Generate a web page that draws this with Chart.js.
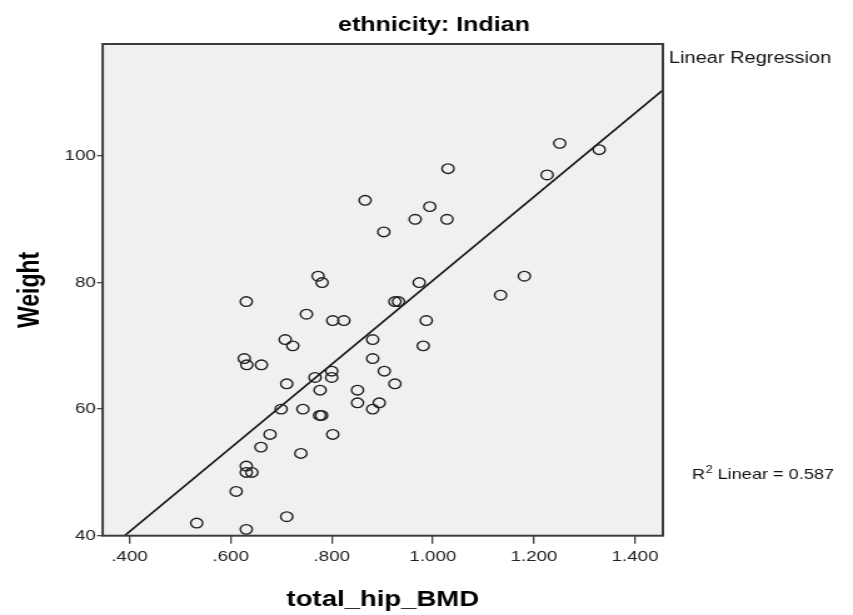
<!DOCTYPE html>
<html>
<head>
<meta charset="utf-8">
<script src="https://cdn.jsdelivr.net/npm/chart.js@4/dist/chart.umd.min.js"></script>
<style>
  html, body { margin: 0; padding: 0; background: #fff; overflow: hidden; }
  #c { position: absolute; left: 0; top: 0; transform: scaleX(1.2507); transform-origin: 0 0; }
</style>
</head>
<body>
<canvas id="c" width="682" height="615"></canvas>
<script>
// Hip bone mineral density (g/cm²) and body weight (kg), one entry per subject
const hipBMD = [
  0.533, 0.631, 0.611, 0.631, 0.631, 0.642, 0.660, 0.678, 0.711, 0.739,
  0.700, 0.743, 0.711, 0.777, 0.780, 0.776, 0.802, 0.767, 0.800, 0.800,
  0.627, 0.632, 0.661, 0.708, 0.723, 0.631, 0.750, 0.802, 0.824, 0.773,
  0.781, 0.866, 0.903, 0.965, 0.994, 1.028, 1.030, 0.973, 0.925, 0.932,
  0.987, 0.981, 0.881, 0.881, 0.904, 0.925, 0.851, 0.851, 0.894, 0.881,
  1.134, 1.181, 1.226, 1.251, 1.329
];
const weight = [
  42, 41, 47, 51, 50, 50, 54, 56, 43, 53,
  60, 60, 64, 63, 59, 59, 56, 65, 66, 65,
  68, 67, 67, 71, 70, 77, 75, 74, 74, 81,
  80, 93, 88, 90, 92, 90, 98, 80, 77, 77,
  74, 70, 71, 68, 66, 64, 63, 61, 61, 60,
  78, 81, 97, 102, 101
];

const xTickValues = [0.4, 0.6, 0.8, 1.0, 1.2, 1.4];
const yTickValues = [40, 60, 80, 100];
const xRange = [0.347, 1.455];
const yRange = [40, 117.7];

const panelTitle = 'ethnicity: Indian';
const xTitle = 'total_hip_BMD';
const yTitle = 'Weight';
const fitLegend = 'Linear Regression';
const rSquaredLinear = 0.587;

// ordinary least squares fit of weight on hip BMD
function leastSquares(xs, ys) {
  const n = xs.length;
  const mx = xs.reduce((s, v) => s + v, 0) / n;
  const my = ys.reduce((s, v) => s + v, 0) / n;
  let sxy = 0, sxx = 0;
  for (let i = 0; i < n; i++) {
    sxy += (xs[i] - mx) * (ys[i] - my);
    sxx += (xs[i] - mx) * (xs[i] - mx);
  }
  const slope = sxy / sxx;
  return { slope, intercept: my - slope * mx };
}
const fit = leastSquares(hipBMD, weight);
const fitLine = xRange.map(x => ({ x, y: fit.intercept + fit.slope * x }));
const subjects = hipBMD.map((x, i) => ({ x, y: weight[i] }));

const FONT = '"Liberation Sans", Arial, sans-serif';

function fmtBMD(v) {
  const s = v.toFixed(3);
  return s.startsWith('0') ? s.slice(1) : s;
}

const panelDecor = {
  id: 'panelDecor',
  beforeDraw(chart) {
    const { ctx, chartArea: a } = chart;
    ctx.save();
    ctx.fillStyle = '#f0f0f0';
    ctx.fillRect(a.left, a.top, a.right - a.left, a.bottom - a.top);
    ctx.restore();
  },
  afterDraw(chart) {
    const { ctx, chartArea: a } = chart;
    ctx.save();
    ctx.strokeStyle = '#3c3c3c';
    ctx.lineWidth = 2;
    ctx.strokeRect(a.left, a.top, a.right - a.left, a.bottom - a.top);

    ctx.fillStyle = '#000';
    ctx.textBaseline = 'alphabetic';

    ctx.font = 'bold 20px ' + FONT;
    ctx.textAlign = 'center';
    ctx.fillText(panelTitle, 347, 31);

    ctx.font = 'bold 22px ' + FONT;
    ctx.fillText(xTitle, (a.left + a.right) / 2, 606);

    ctx.save();
    ctx.font = 'bold 23px ' + FONT;
    ctx.translate(31, (a.top + a.bottom) / 2);
    ctx.rotate(-Math.PI / 2);
    ctx.fillText(yTitle, 0, 0);
    ctx.restore();

    ctx.textAlign = 'left';
    ctx.fillStyle = '#111';
    ctx.font = '16px ' + FONT;
    ctx.fillText(fitLegend, a.right + 4.8, 63);

    let x = a.right + 23.2;
    const base = 479;
    ctx.font = '14.5px ' + FONT;
    ctx.fillText('R', x, base);
    x += ctx.measureText('R').width;
    ctx.font = '10px ' + FONT;
    ctx.fillText('2', x + 0.5, base - 6);
    x += ctx.measureText('2').width + 0.5;
    ctx.font = '14.5px ' + FONT;
    ctx.fillText(' Linear = ' + rSquaredLinear.toFixed(3), x, base);
    ctx.restore();
  }
};

new Chart(document.getElementById('c'), {
  type: 'scatter',
  data: {
    datasets: [
      {
        type: 'line',
        data: fitLine,
        borderColor: '#111',
        borderWidth: 1.6,
        pointRadius: 0,
        fill: false,
        order: 2
      },
      {
        data: subjects,
        showLine: false,
        pointRadius: 4.8,
        pointBorderWidth: 1.35,
        pointBackgroundColor: 'rgba(0,0,0,0)',
        pointBorderColor: '#1e1e1e',
        order: 1
      }
    ]
  },
  options: {
    responsive: false,
    animation: false,
    devicePixelRatio: 1,
    layout: { padding: { left: 0, right: 152, top: 44, bottom: 0 } },
    plugins: { legend: { display: false }, tooltip: { enabled: false }, title: { display: false } },
    scales: {
      x: {
        type: 'linear',
        min: xRange[0],
        max: xRange[1],
        afterBuildTicks: s => { s.ticks = xTickValues.map(v => ({ value: v })); },
        afterFit: s => { s.height = 79.3; },
        border: { display: false },
        grid: { drawOnChartArea: false, drawTicks: true, tickLength: 8, color: '#444', lineWidth: 1.3 },
        ticks: {
          autoSkip: false, maxRotation: 0, padding: 4,
          color: '#222', font: { family: FONT, size: 15 },
          callback: v => fmtBMD(v)
        }
      },
      y: {
        type: 'linear',
        min: yRange[0],
        max: yRange[1],
        afterBuildTicks: s => { s.ticks = yTickValues.map(v => ({ value: v })); },
        afterFit: s => { s.width = 82.1; },
        border: { display: false },
        grid: { drawOnChartArea: false, drawTicks: true, tickLength: 4.5, color: '#444', lineWidth: 1.3 },
        ticks: {
          padding: 1,
          color: '#222', font: { family: FONT, size: 15 },
          callback: v => String(v)
        }
      }
    }
  },
  plugins: [panelDecor]
});
</script>
</body>
</html>
